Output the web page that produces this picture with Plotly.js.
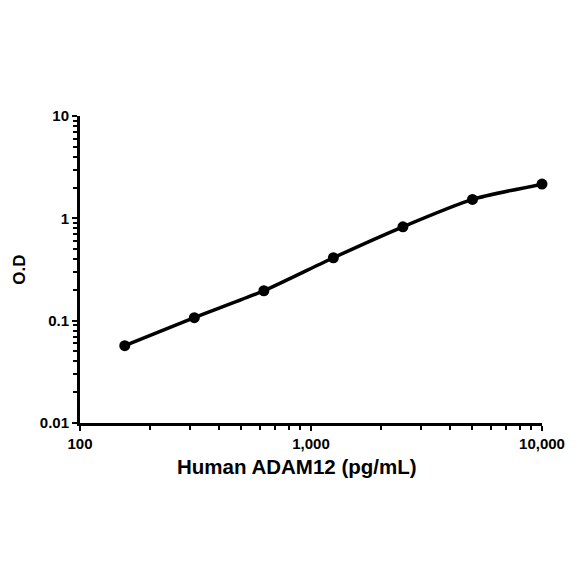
<!DOCTYPE html>
<html>
<head>
<meta charset="utf-8">
<script src="https://cdn.plot.ly/plotly-3.0.1.min.js"></script>
<style>html,body{margin:0;padding:0;background:#fff;}#chart{width:584px;height:584px;}</style>
</head>
<body>
<div id="chart"></div>
<script>
const concentrations = [156.25, 312.5, 625, 1250, 2500, 5000, 10000];
const odValues = [0.057, 0.107, 0.196, 0.412, 0.826, 1.53, 2.16];
const xTickVals = [100, 1000, 10000];
const xTickText = ['100', '1,000', '10,000'];
const yTickVals = [0.01, 0.1, 1, 10];
const yTickText = ['0.01', '0.1', '1', '10'];
const xTitle = 'Human ADAM12 (pg/mL)';
const yTitle = 'O.D';

const trace = {
  x: concentrations,
  y: odValues,
  mode: 'lines+markers',
  line: {color: '#000', width: 3.5, shape: 'spline', smoothing: 0.6},
  marker: {color: '#000', size: 11},
  cliponaxis: false,
  hoverinfo: 'none'
};

const fontFam = 'Liberation Sans, Arial, sans-serif';

const layout = {
  width: 584, height: 584,
  margin: {l: 80, r: 42, t: 116, b: 161},
  paper_bgcolor: '#fff', plot_bgcolor: '#fff',
  showlegend: false,
  font: {family: fontFam, color: '#000'},
  xaxis: {
    type: 'log', range: [2, 4],
    tickvals: xTickVals, ticktext: xTickText,
    ticks: 'outside', ticklen: 5, tickwidth: 2, tickcolor: '#000',
    minor: {dtick: 'D1', ticks: 'outside', ticklen: 4, tickwidth: 2, tickcolor: '#000', showgrid: false},
    showline: true, linewidth: 3, linecolor: '#000',
    showgrid: false, zeroline: false,
    tickfont: {size: 15, family: fontFam, weight: 'bold'}
  },
  yaxis: {
    type: 'log', range: [-2, 1],
    tickvals: yTickVals, ticktext: yTickText,
    ticks: 'outside', ticklen: 5, tickwidth: 2, tickcolor: '#000',
    minor: {dtick: 'D1', ticks: 'outside', ticklen: 4, tickwidth: 2, tickcolor: '#000', showgrid: false},
    showline: true, linewidth: 3, linecolor: '#000',
    showgrid: false, zeroline: false,
    tickfont: {size: 15, family: fontFam, weight: 'bold'},
    title: {text: '<b>' + yTitle + '</b>', font: {size: 17}, standoff: 10}
  },
  annotations: [{
    text: '<b>' + xTitle + '</b>',
    xref: 'paper', yref: 'paper',
    x: 0.47, y: -0.143,
    xanchor: 'center', yanchor: 'middle',
    showarrow: false,
    font: {size: 20.5, family: fontFam, color: '#000'}
  }]
};

Plotly.newPlot('chart', [trace], layout, {displayModeBar: false, staticPlot: true});
</script>
</body>
</html>
